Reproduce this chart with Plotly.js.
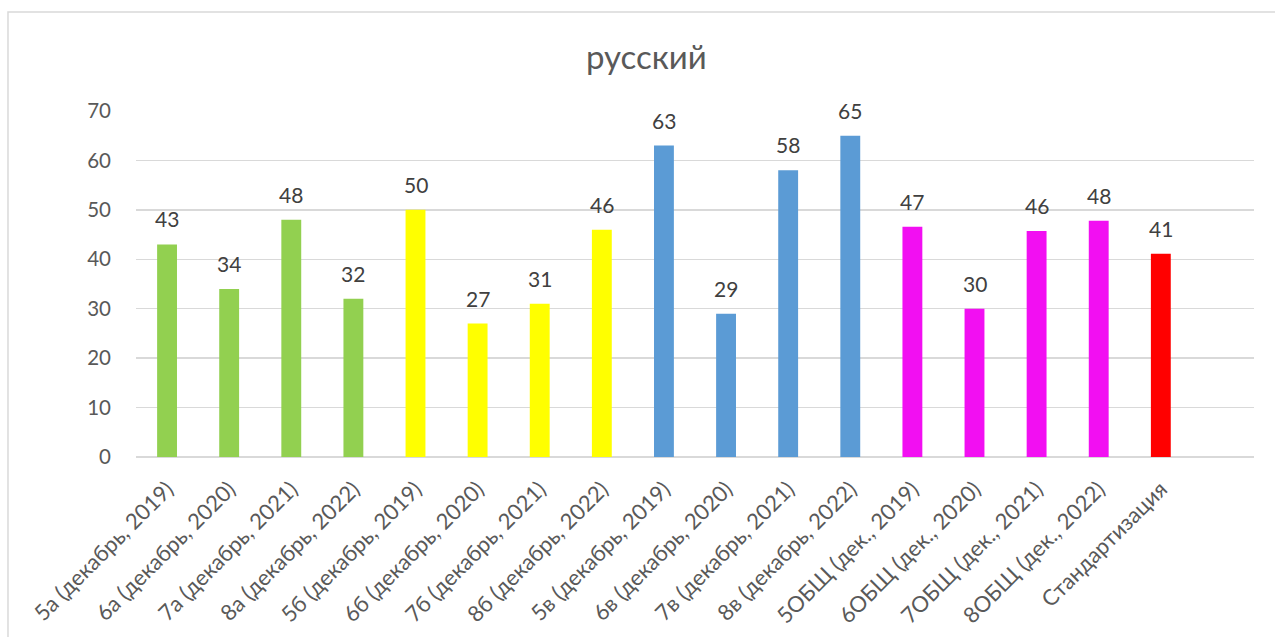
<!DOCTYPE html>
<html>
<head>
<meta charset="utf-8">
<script src="https://cdn.plot.ly/plotly-3.0.1.min.js"></script>
<style>html,body{margin:0;padding:0;background:#fff;} #chart{width:1275px;height:637px;}</style>
</head>
<body>
<div id="chart"></div>
<script>
const categories = [
  "5а (декабрь, 2019)", "6а (декабрь, 2020)", "7а (декабрь, 2021)", "8а (декабрь, 2022)",
  "5б (декабрь, 2019)", "6б (декабрь, 2020)", "7б (декабрь, 2021)", "8б (декабрь, 2022)",
  "5в (декабрь, 2019)", "6в (декабрь, 2020)", "7в (декабрь, 2021)", "8в (декабрь, 2022)",
  "5ОБЩ (дек., 2019)", "6ОБЩ (дек., 2020)", "7ОБЩ (дек., 2021)", "8ОБЩ (дек., 2022)",
  "Стандартизация"
];
const values = [43, 34, 48, 32, 50, 27, 31, 46, 63, 29, 58, 65, 46.6, 30, 45.7, 47.8, 41.1];
const barColors = [
  "#92d050", "#92d050", "#92d050", "#92d050",
  "#ffff00", "#ffff00", "#ffff00", "#ffff00",
  "#5b9bd5", "#5b9bd5", "#5b9bd5", "#5b9bd5",
  "#f20ff2", "#f20ff2", "#f20ff2", "#f20ff2",
  "#ff0000"
];
const yTicks = [0, 10, 20, 30, 40, 50, 60, 70];
const chartTitle = "русский";

const FONT = "Lato, 'Open Sans', sans-serif";

const trace = {
  type: "bar",
  x: categories,
  y: values,
  marker: {color: barColors},
  hoverinfo: "x+y"
};

const labels = categories.map((c, i) => ({
  x: c, y: values[i], xref: "x", yref: "y",
  text: String(Math.round(values[i])),
  showarrow: false, yanchor: "bottom", xanchor: "center",
  yshift: 11,
  font: {family: FONT, size: 21, color: "#404040"}
}));

const layout = {
  width: 1275,
  height: 637,
  margin: {l: 136, r: 21, t: 111, b: 180},
  paper_bgcolor: "#fff",
  plot_bgcolor: "#fff",
  showlegend: false,
  bargap: 0.68,
  title: {
    text: chartTitle,
    font: {family: FONT, size: 33, color: "#595959"},
    x: 0.507, xref: "container", xanchor: "center",
    y: 0.91, yref: "container", yanchor: "middle"
  },
  xaxis: {
    type: "category",
    range: [-0.5, 17.5],
    tickangle: -45,
    tickfont: {family: FONT, size: 22, color: "#595959"},
    showgrid: false,
    showline: false,
    ticks: "",
    ticklabelstandoff: 14,
    automargin: false,
    fixedrange: true
  },
  yaxis: {
    range: [0, 70],
    tickvals: yTicks,
    ticktext: yTicks.map(String),
    tickfont: {family: FONT, size: 20.5, color: "#595959"},
    showgrid: true,
    gridcolor: "#d9d9d9",
    gridwidth: 1.3,
    zeroline: true,
    zerolinecolor: "#d9d9d9",
    zerolinewidth: 1.3,
    showline: false,
    ticks: "",
    ticklabelstandoff: 24,
    automargin: false,
    fixedrange: true
  },
  annotations: labels,
  shapes: [{
    type: "rect", xref: "paper", yref: "paper",
    x0: -0.1145, x1: 1.2, y0: -0.8, y1: 1.286,
    line: {color: "#d9d9d9", width: 1.5},
    fillcolor: "rgba(0,0,0,0)",
    layer: "below"
  }]
};

Plotly.newPlot("chart", [trace], layout, {displayModeBar: false, staticPlot: true});
</script>
</body>
</html>
